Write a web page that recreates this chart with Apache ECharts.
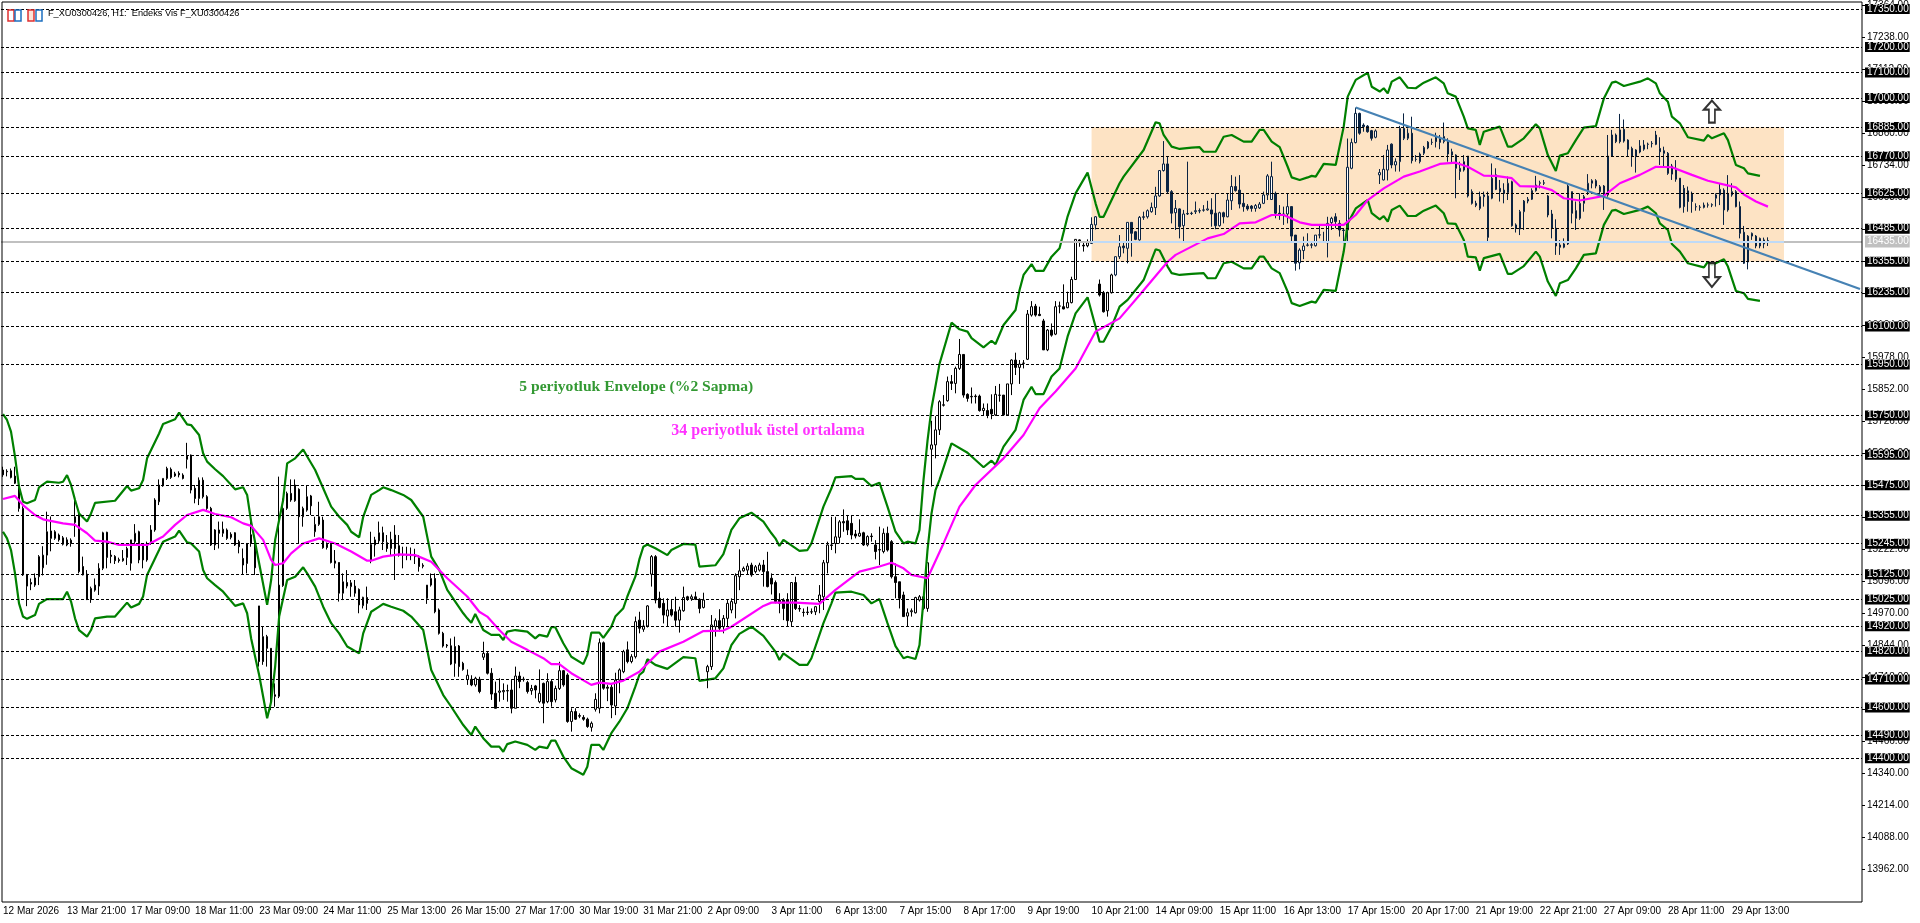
<!DOCTYPE html>
<html>
<head>
<meta charset="utf-8">
<title>F_XU0300426</title>
<script src="https://cdn.jsdelivr.net/npm/echarts@6/dist/echarts.min.js"></script>
<style>
html, body { margin: 0; padding: 0; background: #fff; }
#chart { width: 1920px; height: 923px; }
</style>
</head>
<body>
<div id="chart"></div>
<script>
const timeLabels = ['12 Mar 2026', '13 Mar 21:00', '17 Mar 09:00', '18 Mar 11:00', '23 Mar 09:00', '24 Mar 11:00', '25 Mar 13:00',
    '26 Mar 15:00', '27 Mar 17:00', '30 Mar 19:00', '31 Mar 21:00', '2 Apr 09:00', '3 Apr 11:00', '6 Apr 13:00', '7 Apr 15:00',
    '8 Apr 17:00', '9 Apr 19:00', '10 Apr 21:00', '14 Apr 09:00', '15 Apr 11:00', '16 Apr 13:00', '17 Apr 15:00', '20 Apr 17:00',
    '21 Apr 19:00', '22 Apr 21:00', '27 Apr 09:00', '28 Apr 11:00', '29 Apr 13:00'];
const barsPerLabel = 16;
const slotCount = 465;

const priceTicks = [13962, 14088, 14214, 14340, 14466, 14592, 14718, 14844, 14970, 15096, 15222, 15348, 15474, 15600, 15726, 15852,
    15978, 16104, 16230, 16356, 16482, 16608, 16734, 16860, 16986, 17112, 17238, 17364];
const levels = [17350, 17200, 17100, 17000, 16885, 16770, 16625, 16485, 16355, 16235, 16100, 15950, 15750, 15595, 15475, 15355,
    15245, 15125, 15025, 14920, 14820, 14710, 14600, 14490, 14400];
const lastPrice = 16435;
const zoneBar = [272, 445];
const zonePrice = [16355, 16885];
const trendLine = [[338, 16962], [464, 16248]];
const upArrow = [427, 16946];
const downArrow = [427, 16303];
const envelopeNote = [129, 15862, '5 periyotluk Envelope (%2 Sapma)'];
const emaNote = [167, 15690, '34 periyotluk üstel ortalama'];

// open, close, low, high
const candles = [
[15535,15516,15508,15548],[15530,15528,15510,15538],[15532,15506,15502,15541],[15511,15483,15480,15548],[15473,15384,15371,15476],
[15384,15122,15118,15392],[15122,15078,14999,15126],[15092,15086,15062,15108],[15082,15110,15075,15128],[15115,15194,15082,15200],
[15150,15200,15120,15235],[15200,15292,15162,15371],[15295,15266,15215,15352],[15266,15292,15260,15298],[15279,15260,15253,15285],
[15268,15243,15238,15275],[15260,15240,15235,15270],[15246,15259,15233,15266],[15328,15351,15272,15424],[15358,15135,15128,15362],
[15155,15122,15120,15194],[15125,15025,15023,15141],[15025,15069,15012,15076],[15062,15082,15056,15108],[15078,15148,15043,15168],
[15148,15288,15141,15292],[15290,15191,15148,15292],[15200,15195,15168,15220],[15195,15178,15165,15200],[15182,15178,15170,15190],
[15178,15187,15174,15220],[15191,15226,15161,15233],[15168,15260,15139,15260],[15253,15286,15240,15322],[15292,15181,15168,15296],
[15243,15181,15148,15246],[15181,15246,15174,15253],[15253,15299,15240,15318],[15299,15417,15292,15424],[15410,15476,15397,15498],
[15473,15502,15469,15502],[15502,15541,15496,15548],[15538,15506,15500,15545],[15520,15512,15508,15528],[15522,15516,15506,15530],
[15515,15502,15498,15522],[15577,15590,15541,15642],[15594,15456,15443,15596],[15463,15423,15404,15476],[15423,15495,15397,15506],
[15495,15430,15423,15506],[15430,15384,15378,15436],[15384,15240,15236,15390],[15240,15299,15220,15302],[15299,15286,15226,15332],
[15286,15302,15272,15332],[15299,15266,15260,15305],[15282,15270,15262,15290],[15288,15240,15236,15290],[15253,15233,15207,15260],
[15187,15161,15122,15226],[15167,15246,15128,15246],[15280,15246,15233,15332],[15253,15150,15122,15272],[15000,14781,14761,15000],
[14879,14781,14768,14918],[14879,14833,14761,14886],[14833,14623,14590,14833],[14650,14644,14603,14695],[14644,15082,14637,15509],
[15080,15384,15075,15423],[15384,15443,15378,15450],[15443,15417,15410,15498],[15414,15476,15410,15498],[15459,15351,15246,15463],
[15351,15384,15312,15391],[15377,15430,15371,15472],[15433,15394,15358,15437],[15292,15321,15272,15351],[15321,15351,15315,15410],
[15338,15229,15225,15351],[15243,15230,15222,15250],[15243,15171,15167,15253],[15177,15168,15148,15220],[15171,15050,15017,15171],
[15050,15095,15023,15128],[15092,15078,15069,15141],[15076,15091,15036,15102],[15078,15050,15036,15102],[15065,15004,14971,15069],
[15001,15034,14990,15036],[15033,15010,14984,15076],[15178,15242,15168,15292],[15240,15260,15194,15272],[15256,15288,15246,15332],
[15288,15253,15220,15312],[15249,15226,15213,15279],[15226,15262,15200,15292],[15279,15226,15102,15318],[15237,15200,15194,15279],
[15202,15200,15148,15233],[15200,15198,15180,15233],[15198,15200,15180,15230],[15200,15194,15165,15225],[15194,15155,15135,15200],
[15160,15156,15148,15168],[15030,15082,15008,15082],[15082,15108,15076,15128],[15108,14977,14971,15128],[14984,14892,14887,14990],
[14892,14842,14836,14898],[14846,14843,14835,14850],[14843,14771,14767,14872],[14840,14774,14721,14879],[14842,14761,14721,14846],
[14774,14750,14745,14780],[14710,14727,14689,14750],[14711,14689,14684,14727],[14689,14715,14682,14721],[14711,14663,14656,14721],
[14798,14813,14787,14859],[14813,14735,14730,14820],[14735,14653,14630,14755],[14656,14597,14597,14702],[14660,14665,14623,14715],
[14662,14667,14630,14695],[14665,14667,14623,14690],[14669,14597,14577,14708],[14597,14724,14597,14761],[14724,14702,14676,14741],
[14712,14710,14702,14721],[14698,14663,14655,14705],[14666,14675,14650,14689],[14685,14669,14636,14689],[14623,14656,14617,14750],
[14695,14617,14538,14698],[14623,14702,14617,14735],[14702,14623,14603,14708],[14630,14675,14620,14686],[14675,14745,14669,14780],
[14745,14689,14682,14748],[14728,14545,14540,14735],[14545,14584,14505,14597],[14584,14554,14551,14597],[14568,14566,14558,14577],
[14561,14554,14548,14570],[14554,14525,14520,14560],[14522,14538,14505,14545],[14593,14632,14584,14656],[14597,14855,14577,14872],
[14855,14676,14670,14860],[14680,14676,14625,14690],[14680,14610,14558,14690],[14606,14708,14570,14737],[14708,14748,14656,14754],
[14741,14820,14735,14827],[14827,14781,14774,14860],[14781,14800,14774,14810],[14800,14938,14793,14958],[14944,14912,14892,14977],
[14908,14921,14898,14944],[14921,15000,14915,15003],[15125,15194,15076,15200],[15194,15023,15010,15200],[15030,14994,14990,15056],
[15010,14964,14931,15030],[14960,14984,14918,15030],[14986,14964,14958,15023],[14977,14944,14918,15036],[14944,14984,14895,14997],
[14981,15033,14977,15076],[15036,15028,15020,15040],[15028,15036,15020,15045],[15036,15026,15023,15056],[15026,14990,14971,15030],
[14994,15023,14990,15052],[14741,14761,14676,14768],[14761,14925,14748,14964],[14918,14942,14879,14951],[14942,14912,14899,14987],
[14918,14951,14892,14964],[14951,15010,14918,15023],[14984,15017,14971,15030],[15010,15119,14951,15128],[15115,15138,15062,15223],
[15138,15148,15135,15155],[15141,15157,15122,15168],[15161,15122,15115,15170],[15135,15154,15128,15161],[15141,15161,15135,15170],
[15161,15135,15076,15181],[15135,15076,15073,15213],[15109,15086,15045,15128],[15092,15017,15010,15100],[15023,15010,14971,15050],
[15023,14990,14944,15030],[15023,14942,14918,15050],[14938,15092,14918,15092],[15092,14990,14984,15115],[14990,14988,14977,15003],
[14975,14974,14958,14990],[14974,14976,14964,14997],[14976,14977,14968,14990],[14977,14997,14964,15000],[15017,15043,14971,15082],
[15036,15170,14984,15181],[15170,15240,15128,15253],[15240,15238,15220,15351],[15246,15272,15207,15351],[15270,15331,15246,15338],
[15332,15327,15292,15380],[15335,15299,15279,15358],[15325,15279,15262,15358],[15283,15275,15266,15299],[15275,15286,15272,15341],
[15288,15240,15236,15292],[15240,15273,15234,15278],[15275,15273,15253,15286],[15240,15214,15183,15259],[15220,15222,15161,15312],
[15214,15286,15207,15305],[15286,15220,15214,15312],[15253,15115,15108,15259],[15115,15092,15030,15167],[15095,15030,14990,15095],
[15043,14958,14958,15056],[14960,14973,14918,14990],[14977,14981,14958,14990],[14973,15033,14970,15036],[15023,15036,15017,15043],
[15036,14990,14984,15050],[14990,15170,14977,15170],[15617,15634,15470,15729],[15634,15693,15581,15747],[15693,15804,15673,15810],
[15790,15792,15785,15830],[15808,15883,15804,15903],[15883,15876,15850,15909],[15876,15935,15837,15942],[15935,15990,15929,16051],
[15990,15830,15820,15990],[15833,15817,15804,15837],[15825,15823,15797,15860],[15826,15824,15797,15833],[15826,15769,15765,15832],
[15769,15778,15748,15797],[15769,15752,15739,15797],[15774,15756,15735,15833],[15752,15833,15748,15866],[15829,15830,15804,15874],
[15830,15752,15748,15830],[15752,15874,15748,15874],[15874,15968,15830,15971],[15968,15939,15909,15997],[15939,15952,15874,15968],
[15956,15955,15935,15968],[15971,16149,15968,16165],[16145,16178,16139,16200],[16180,16145,16139,16189],[16148,16143,16141,16178],
[16122,16008,16008,16130],[16008,16086,16003,16090],[16086,16066,16060,16112],[16070,16178,16066,16200],[16180,16181,16152,16198],
[16178,16169,16168,16266],[16174,16194,16172,16237],[16194,16285,16191,16296],[16285,16443,16283,16443],[16441,16433,16414,16443],
[16420,16417,16395,16434],[16418,16430,16412,16443],[16427,16502,16425,16530],[16500,16532,16482,16535],[16267,16224,16218,16285],
[16233,16158,16155,16240],[16162,16233,16139,16237],[16233,16303,16230,16308],[16303,16375,16298,16375],[16375,16414,16366,16460],
[16417,16410,16388,16434],[16408,16510,16349,16510],[16510,16467,16375,16510],[16473,16443,16440,16475],[16441,16530,16438,16535],
[16532,16530,16520,16552],[16532,16556,16525,16561],[16552,16569,16548,16588],[16568,16614,16539,16650],[16614,16714,16611,16716],
[16714,16740,16710,16830],[16740,16631,16624,16769],[16631,16546,16506,16637],[16548,16565,16480,16598],[16563,16493,16447,16565],
[16497,16543,16434,16559],[16543,16545,16539,16749],[16546,16545,16539,16552],[16552,16556,16543,16592],[16556,16555,16546,16565],
[16558,16559,16552,16578],[16559,16563,16556,16595],[16559,16543,16493,16605],[16546,16497,16483,16624],[16497,16548,16493,16552],
[16548,16532,16506,16552],[16532,16598,16530,16624],[16595,16651,16559,16696],[16651,16635,16631,16690],[16637,16582,16565,16696],
[16585,16572,16552,16624],[16574,16563,16556,16582],[16574,16565,16552,16578],[16565,16576,16552,16582],[16567,16582,16563,16590],
[16585,16618,16582,16631],[16618,16693,16598,16700],[16600,16690,16598,16749],[16624,16546,16526,16631],[16546,16543,16520,16578],
[16543,16541,16500,16572],[16543,16572,16506,16624],[16572,16456,16434,16572],[16460,16349,16320,16460],[16351,16401,16325,16408],
[16399,16417,16365,16454],[16421,16420,16415,16467],[16420,16422,16408,16430],[16418,16460,16415,16460],[16460,16461,16447,16500],
[16435,16434,16430,16473],[16430,16506,16372,16532],[16509,16526,16480,16532],[16532,16513,16487,16546],[16506,16480,16454,16519],
[16480,16478,16428,16487],[16480,16727,16434,16840],[16723,16824,16719,16840],[16824,16939,16821,16962],[16939,16861,16855,16942],
[16893,16887,16867,16900],[16889,16867,16863,16893],[16871,16841,16832,16874],[16845,16870,16841,16876],[16697,16706,16661,16720],
[16677,16719,16675,16775],[16716,16795,16675,16815],[16818,16736,16723,16821],[16736,16749,16710,16762],[16749,16880,16710,16890],
[16880,16841,16834,16939],[16841,16861,16834,16880],[16861,16753,16742,16926],[16758,16758,16749,16775],[16749,16779,16742,16785],
[16782,16805,16775,16811],[16803,16826,16798,16830],[16825,16825,16815,16840],[16850,16828,16805,16863],[16845,16825,16798,16854],
[16828,16848,16821,16903],[16828,16779,16749,16841],[16775,16788,16742,16800],[16775,16723,16605,16778],[16710,16723,16677,16749],
[16716,16749,16710,16775],[16771,16614,16608,16771],[16631,16585,16580,16640],[16585,16577,16570,16595],[16565,16611,16558,16631],
[16611,16618,16572,16631],[16614,16451,16430,16631],[16605,16684,16601,16742],[16697,16640,16637,16723],[16644,16631,16592,16677],
[16637,16624,16585,16664],[16627,16664,16598,16690],[16670,16497,16493,16674],[16500,16487,16470,16506],[16484,16552,16460,16559],
[16552,16594,16480,16598],[16594,16601,16585,16610],[16601,16635,16598,16644],[16635,16657,16631,16693],[16664,16666,16644,16674],
[16664,16666,16657,16677],[16614,16539,16530,16618],[16543,16487,16447,16559],[16487,16417,16382,16522],[16421,16412,16382,16440],
[16412,16425,16408,16447],[16425,16653,16421,16664],[16631,16546,16506,16631],[16556,16526,16480,16592],[16526,16585,16520,16624],
[16585,16611,16552,16618],[16631,16664,16618,16700],[16664,16674,16644,16680],[16674,16653,16644,16680],[16650,16631,16618,16657],
[16653,16614,16559,16657],[16618,16771,16611,16854],[16771,16854,16768,16874],[16854,16828,16822,16860],[16874,16828,16821,16937],
[16876,16830,16824,16915],[16834,16798,16768,16837],[16801,16769,16729,16808],[16769,16795,16706,16798],[16787,16811,16782,16834],
[16798,16815,16792,16834],[16817,16818,16798,16824],[16820,16821,16805,16830],[16817,16854,16814,16870],[16801,16788,16736,16845],
[16792,16782,16729,16808],[16782,16703,16697,16787],[16732,16700,16677,16740],[16723,16680,16670,16755],[16684,16569,16565,16684],
[16644,16572,16548,16657],[16634,16592,16552,16651],[16624,16592,16548,16631],[16571,16572,16556,16585],[16569,16570,16556,16578],
[16569,16578,16565,16588],[16578,16579,16568,16588],[16578,16580,16570,16585],[16605,16618,16572,16624],[16618,16640,16578,16664],
[16637,16559,16500,16644],[16624,16559,16552,16696],[16618,16631,16611,16664],[16631,16572,16569,16637],[16572,16467,16447,16592],
[16471,16349,16346,16496],[16354,16456,16325,16460],[16456,16467,16441,16470],[16456,16417,16408,16460],[16417,16447,16408,16450],
[16425,16441,16408,16450],[16438,16436,16417,16451]
];

// bar index, price - at the bends of each line
const envelopeUpper = [[0,15755],[1,15732],[2,15686],[3,15588],[4,15470],[5,15410],[6,15404],[8,15417],[9,15467],[11,15489],[14,15485],[15,15489],
[16,15515],[17,15476],[18,15417],[19,15364],[21,15332],[22,15364],[23,15406],[28,15414],[31,15472],[32,15454],[34,15463],[35,15496],[36,15581],
[39,15679],[40,15716],[43,15735],[44,15761],[46,15715],[47,15712],[49,15673],[50,15601],[51,15568],[53,15538],[55,15511],[58,15459],[60,15467],
[61,15437],[62,15332],[64,15168],[66,15004],[67,15102],[68,15260],[70,15417],[71,15561],[73,15581],[75,15616],[76,15588],[78,15535],[80,15463],
[82,15391],[84,15351],[86,15319],[87,15292],[89,15270],[90,15351],[92,15437],[94,15456],[95,15467],[97,15456],[100,15437],[102,15417],[105,15351],
[107,15194],[109,15142],[111,15063],[115,14971],[116,14951],[117,14934],[118,14968],[120,14905],[122,14886],[124,14886],[125,14866],[126,14899],
[128,14905],[131,14899],[133,14872],[134,14886],[136,14879],[137,14916],[138,14916],[140,14853],[142,14800],[145,14771],[146,14807],[147,14895],
[149,14895],[150,14874],[152,14918],[153,14958],[155,14991],[156,15037],[158,15115],[159,15183],[160,15233],[161,15242],[163,15227],[166,15200],
[167,15220],[170,15244],[173,15241],[174,15155],[178,15160],[180,15204],[182,15299],[184,15345],[187,15367],[190,15332],[192,15286],[193,15266],
[194,15236],[195,15260],[199,15217],[201,15220],[202,15246],[205,15391],[207,15463],[208,15506],[212,15511],[213,15500],[215,15500],[217,15472],
[219,15485],[221,15391],[223,15292],[225,15246],[226,15253],[228,15246],[229,15299],[230,15495],[231,15650],[232,15778],[234,15953],[237,16115],
[239,16089],[241,16080],[242,16054],[245,16018],[247,16044],[248,16031],[250,16106],[253,16165],[254,16244],[255,16303],[257,16346],[258,16319],
[260,16319],[262,16375],[264,16408],[266,16533],[268,16624],[271,16706],[273,16585],[274,16532],[275,16532],[277,16598],[279,16664],[280,16690],
[285,16795],[288,16904],[289,16900],[290,16854],[292,16808],[294,16799],[297,16804],[299,16806],[300,16788],[303,16788],[305,16847],[307,16854],
[310,16828],[312,16828],[314,16874],[315,16874],[317,16828],[319,16806],[321,16729],[322,16687],[324,16677],[326,16687],[327,16693],[328,16690],
[330,16740],[333,16736],[335,16887],[336,17005],[338,17071],[341,17099],[342,17044],[344,17025],[345,17038],[346,17018],[347,17064],[349,17081],
[351,17040],[353,17038],[355,17060],[358,17081],[360,17057],[361,17018],[363,17005],[365,16926],[366,16880],[368,16874],[369,16815],[370,16867],
[374,16887],[376,16808],[377,16808],[380,16841],[383,16896],[384,16880],[386,16775],[388,16712],[389,16773],[391,16782],[393,16834],[395,16883],
[398,16889],[400,16998],[402,17060],[403,17064],[405,17047],[409,17064],[411,17077],[413,17057],[414,17018],[416,16985],[417,16926],[419,16900],
[421,16845],[425,16832],[426,16854],[427,16841],[430,16861],[431,16834],[433,16736],[435,16723],[436,16703],[439,16693]];

const envelopeLower = [[0,15292],[1,15266],[2,15220],[3,15128],[4,15010],[5,14958],[6,14949],[8,14964],[9,15008],[11,15027],[14,15027],[15,15027],
[16,15056],[17,15017],[18,14951],[19,14905],[21,14879],[22,14905],[23,14951],[26,14958],[28,14958],[31,15013],[32,14994],[34,15008],[35,15037],
[36,15122],[39,15220],[40,15253],[43,15273],[44,15296],[46,15250],[47,15246],[49,15214],[50,15141],[51,15109],[53,15082],[55,15056],[58,15000],
[60,15010],[61,14971],[62,14872],[64,14728],[66,14558],[67,14623],[68,14761],[69,14958],[71,15102],[73,15115],[75,15152],[76,15128],[78,15076],
[80,14997],[82,14932],[84,14892],[86,14840],[89,14813],[90,14892],[92,14977],[94,14997],[95,15008],[97,14997],[100,14981],[102,14958],[105,14905],
[107,14748],[110,14649],[112,14603],[115,14531],[117,14492],[118,14525],[120,14479],[122,14446],[124,14446],[125,14426],[126,14456],[128,14466],
[131,14453],[133,14433],[134,14446],[136,14440],[137,14470],[138,14470],[140,14407],[142,14361],[145,14335],[146,14367],[147,14453],[149,14453],
[150,14433],[152,14499],[154,14544],[156,14597],[158,14682],[159,14728],[160,14741],[161,14790],[163,14768],[166,14752],[170,14798],[173,14794],
[174,14705],[178,14715],[180,14754],[182,14846],[184,14890],[187,14918],[190,14882],[193,14820],[194,14787],[195,14813],[199,14768],[201,14768],
[202,14794],[205,14932],[207,15010],[208,15052],[212,15056],[215,15043],[217,15010],[219,15027],[221,14932],[223,14842],[225,14794],[226,14800],
[228,14791],[229,14846],[230,15023],[231,15220],[232,15364],[233,15456],[234,15496],[237,15640],[241,15603],[245,15546],[247,15572],[248,15555],
[250,15627],[253,15693],[255,15811],[257,15863],[258,15834],[260,15834],[262,15903],[264,15935],[266,16060],[268,16152],[271,16215],[273,16099],
[274,16040],[275,16040],[277,16099],[279,16178],[281,16205],[285,16283],[288,16404],[289,16399],[291,16336],[292,16310],[294,16303],[297,16307],
[300,16310],[301,16290],[303,16290],[305,16349],[307,16355],[310,16329],[312,16329],[314,16375],[315,16375],[317,16329],[319,16310],[321,16237],
[322,16192],[324,16181],[327,16198],[328,16194],[330,16244],[333,16240],[335,16395],[336,16506],[338,16565],[341,16598],[342,16546],[344,16522],
[345,16535],[346,16513],[347,16559],[349,16576],[351,16535],[353,16535],[355,16556],[358,16576],[360,16546],[361,16506],[363,16504],[365,16441],
[366,16375],[368,16372],[369,16320],[370,16369],[374,16386],[376,16307],[377,16307],[380,16338],[383,16395],[384,16375],[386,16277],[388,16220],
[389,16270],[391,16283],[393,16329],[395,16382],[398,16388],[400,16500],[402,16556],[403,16559],[405,16543],[409,16559],[411,16572],[413,16546],
[414,16506],[416,16480],[417,16425],[419,16395],[421,16349],[425,16333],[426,16355],[427,16342],[430,16365],[431,16336],[433,16240],[435,16231],
[436,16209],[439,16201]];

const ema34 = [[0,15421],[3,15433],[5,15397],[8,15358],[10,15341],[15,15325],[18,15319],[21,15286],[23,15257],[26,15253],[29,15240],[33,15240],
[36,15240],[40,15273],[43,15319],[46,15358],[50,15378],[53,15362],[57,15349],[60,15325],[62,15315],[65,15260],[67,15181],[68,15161],[70,15168],
[72,15207],[75,15246],[79,15266],[83,15246],[87,15214],[91,15178],[92,15178],[95,15194],[99,15203],[103,15200],[107,15174],[111,15109],[116,15037],
[119,14977],[121,14958],[124,14905],[127,14859],[131,14827],[135,14794],[137,14771],[139,14771],[142,14735],[147,14689],[149,14698],[152,14693],
[155,14706],[159,14741],[164,14820],[170,14859],[175,14901],[180,14903],[182,14918],[190,15000],[192,15013],[198,15013],[204,15008],[208,15063],
[214,15135],[219,15155],[222,15170],[225,15148],[227,15122],[231,15109],[235,15246],[239,15391],[243,15476],[250,15581],[255,15673],[259,15778],
[263,15844],[268,15935],[273,16080],[279,16132],[284,16224],[291,16355],[293,16382],[301,16447],[305,16464],[309,16506],[313,16510],[317,16539],
[320,16539],[324,16510],[327,16500],[335,16500],[338,16539],[341,16598],[345,16644],[350,16690],[354,16710],[359,16740],[363,16745],[366,16729],
[370,16694],[373,16693],[377,16684],[379,16653],[384,16651],[387,16637],[390,16605],[394,16596],[400,16614],[404,16664],[409,16697],[413,16729],
[417,16727],[422,16697],[426,16674],[433,16648],[435,16620],[438,16592],[441,16572]];

const fontName = '"Liberation Sans", sans-serif';
const noteFont = '"Liberation Serif", serif';
const arrowPath = 'path://M8 0L16 9L11 9L11 22L5 22L5 9L0 9Z';

function buildCategories() {
    const cats = [];
    for (let i = 0; i < slotCount; i += 1) {
        cats.push(i % barsPerLabel === 0 ? (timeLabels[i / barsPerLabel] || '') : '');
    }
    return cats;
}

function buildCandleData() {
    return candles.map((row, i) => {
        const inZone = i >= zoneBar[0] && i <= zoneBar[1] && row[3] > zonePrice[0] && row[2] < zonePrice[1];
        if (!inZone) return row;
        return { value: row, itemStyle: { borderColor: '#0a2342', borderColor0: '#0a2342', color0: '#0a2342' } };
    });
}

function levelLines() {
    return levels.map(v => ({
        yAxis: v,
        lineStyle: { color: '#000', type: [3, 2], width: 1 },
        label: {
            show: true,
            position: 'end',
            distance: 3,
            formatter: v.toFixed(2),
            color: '#fff',
            backgroundColor: '#000',
            fontFamily: fontName,
            fontSize: 10,
            lineHeight: 10,
            padding: [0, 1, 0, 2]
        }
    }));
}

function noteSeries(note, color, size) {
    return {
        type: 'scatter',
        z: 6,
        symbolSize: 0,
        silent: true,
        data: [[note[0], note[1]]],
        label: {
            show: true,
            position: 'right',
            distance: 0,
            formatter: note[2],
            color,
            fontFamily: noteFont,
            fontSize: size,
            fontWeight: 'bold'
        }
    };
}

function lineSeries(data, color, width, z) {
    return {
        type: 'line',
        z,
        data,
        symbol: 'none',
        silent: true,
        lineStyle: { color, width }
    };
}

const chart = echarts.init(document.getElementById('chart'), null, { renderer: 'canvas' });
chart.setOption({
    animation: false,
    backgroundColor: '#fff',
    tooltip: { show: false },
    grid: { left: 1, right: 58, top: 2, bottom: 21 },
    xAxis: {
        type: 'category',
        data: buildCategories(),
        boundaryGap: true,
        axisLine: { show: false },
        axisTick: {
            alignWithLabel: true,
            length: 4,
            lineStyle: { color: '#000' },
            interval: (idx, value) => value !== ''
        },
        axisLabel: {
            interval: (idx, value) => value !== '',
            align: 'left',
            margin: 4,
            color: '#000',
            fontFamily: fontName,
            fontSize: 10
        },
        splitLine: { show: false }
    },
    yAxis: {
        type: 'value',
        position: 'right',
        min: 13834.3,
        max: 17377.6,
        axisLine: { show: false },
        splitLine: { show: false },
        axisTick: { show: true, length: 3, lineStyle: { color: '#000' }, customValues: priceTicks },
        axisLabel: {
            customValues: priceTicks,
            margin: 5,
            color: '#000',
            fontFamily: fontName,
            fontSize: 10,
            formatter: v => v.toFixed(2)
        }
    },
    graphic: [
        { type: 'rect', silent: true, z: 100, shape: { x: 2, y: 2, width: 1860, height: 900 }, style: { fill: 'none', stroke: '#000', lineWidth: 1 } },
        { type: 'rect', silent: true, z: 101, shape: { x: 8, y: 10, width: 6, height: 11 }, style: { fill: '#fff', stroke: '#e03030', lineWidth: 1.5 } },
        { type: 'rect', silent: true, z: 101, shape: { x: 15, y: 10, width: 6, height: 11 }, style: { fill: '#fff', stroke: '#1c6fc0', lineWidth: 1.5 } },
        { type: 'rect', silent: true, z: 101, shape: { x: 28, y: 10, width: 6, height: 11 }, style: { fill: '#fde3d8', stroke: '#e03030', lineWidth: 1.5 } },
        { type: 'rect', silent: true, z: 101, shape: { x: 36, y: 10, width: 6, height: 11 }, style: { fill: '#fff', stroke: '#1c6fc0', lineWidth: 1.5 } },
        {
            type: 'text', silent: true, z: 101, left: 48, top: 9,
            style: { text: 'F_XU0300426, H1:  Endeks Vis F_XU0300426', fill: '#000', font: '9.2px ' + fontName }
        }
    ],
    series: [
        {
            type: 'line',
            z: 1,
            data: [],
            symbol: 'none',
            silent: true,
            markArea: {
                silent: true,
                itemStyle: { color: '#fde3c4' },
                data: [[
                    { xAxis: zoneBar[0], yAxis: zonePrice[1] },
                    { xAxis: zoneBar[1], yAxis: zonePrice[0] }
                ]]
            }
        },
        {
            type: 'line',
            z: 2,
            data: [],
            symbol: 'none',
            silent: true,
            clip: false,
            markLine: {
                silent: true,
                symbol: 'none',
                animation: false,
                data: levelLines().concat([
                    {
                        yAxis: lastPrice,
                        lineStyle: { color: '#c0c0c0', type: 'solid', width: 2 },
                        label: {
                            show: true, position: 'end', distance: 3, formatter: lastPrice.toFixed(2), color: '#fff',
                            backgroundColor: '#c0c0c0', fontFamily: fontName, fontSize: 10, lineHeight: 12, padding: [0, 1, 0, 2]
                        }
                    },
                    [
                        { xAxis: zoneBar[0], yAxis: lastPrice, lineStyle: { color: '#bfdaf7', type: 'solid', width: 2 }, label: { show: false } },
                        { xAxis: zoneBar[1], yAxis: lastPrice }
                    ]
                ])
            }
        },
        {
            type: 'candlestick',
            z: 3,
            data: buildCandleData(),
            barWidth: 2,
            silent: true,
            itemStyle: { color: '#fff', color0: '#000', borderColor: '#000', borderColor0: '#000', borderWidth: 1 }
        },
        lineSeries(envelopeUpper, '#008000', 2.2, 4),
        lineSeries(envelopeLower, '#008000', 2.2, 4),
        lineSeries(ema34, '#ff00ff', 2.2, 4),
        lineSeries(trendLine, '#4682b4', 2.2, 5),
        {
            type: 'scatter',
            z: 6,
            silent: true,
            symbol: arrowPath,
            symbolSize: [16, 22],
            data: [upArrow],
            itemStyle: { color: '#fff', borderColor: '#000', borderWidth: 2 }
        },
        {
            type: 'scatter',
            z: 6,
            silent: true,
            symbol: arrowPath,
            symbolSize: [16, 24],
            symbolRotate: 180,
            data: [downArrow],
            itemStyle: { color: '#fff', borderColor: '#000', borderWidth: 2 }
        },
        noteSeries(envelopeNote, '#008000', 15.6),
        noteSeries(emaNote, '#ff00ff', 16)
    ]
});
</script>
</body>
</html>
